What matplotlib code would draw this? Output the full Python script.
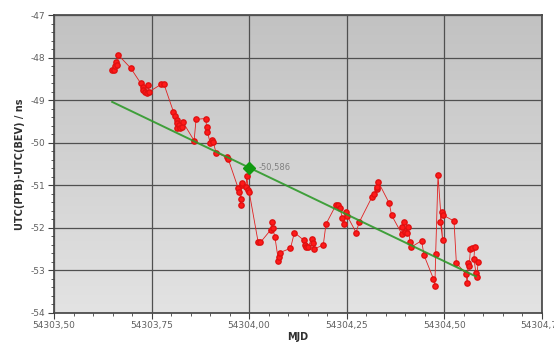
import numpy as np
import matplotlib
matplotlib.use("Agg")
import matplotlib.pyplot as plt
from matplotlib.ticker import MultipleLocator, FuncFormatter

# Measurement series: MJD and clock difference in ns
mjd = [
    54303.648, 54303.654, 54303.656, 54303.659, 54303.662, 54303.665,
    54303.697, 54303.722, 54303.727, 54303.729, 54303.733, 54303.737,
    54303.740, 54303.744, 54303.774, 54303.782, 54303.806, 54303.810,
    54303.814, 54303.815, 54303.816, 54303.821, 54303.823, 54303.827,
    54303.830, 54303.859, 54303.864, 54303.889, 54303.891, 54303.893,
    54303.900, 54303.904, 54303.908, 54303.915, 54303.942, 54303.946,
    54303.972, 54303.975, 54303.978, 54303.978, 54303.981, 54303.983,
    54303.992, 54303.994, 54303.998, 54304.000, 54304.023, 54304.029,
    54304.055, 54304.058, 54304.060, 54304.066, 54304.075, 54304.077,
    54304.079, 54304.106, 54304.116, 54304.140, 54304.143, 54304.145,
    54304.151, 54304.160, 54304.163, 54304.166, 54304.190, 54304.197,
    54304.222, 54304.228, 54304.233, 54304.239, 54304.243, 54304.247,
    54304.251, 54304.274, 54304.282, 54304.315, 54304.321, 54304.327,
    54304.328, 54304.331, 54304.359, 54304.365, 54304.391, 54304.393,
    54304.397, 54304.399, 54304.405, 54304.408, 54304.412, 54304.414,
    54304.442, 54304.448, 54304.472, 54304.476, 54304.478, 54304.484,
    54304.496, 54304.490, 54304.493, 54304.497, 54304.525, 54304.531,
    54304.555, 54304.559, 54304.561, 54304.564, 54304.567, 54304.572,
    54304.578, 54304.576, 54304.581, 54304.583, 54304.587,
]
diff_ns = [
    -48.28, -48.29, -48.20, -48.10, -48.17, -47.94,
    -48.25, -48.60, -48.68, -48.76, -48.80, -48.84,
    -48.64, -48.80, -48.63, -48.63, -49.27, -49.37,
    -49.47, -49.66, -49.54, -49.58, -49.66, -49.62,
    -49.51, -49.95, -49.45, -49.43, -49.64, -49.74,
    -50.00, -49.94, -49.98, -50.23, -50.34, -50.37,
    -51.07, -51.15, -51.31, -51.46, -50.99, -50.95,
    -51.03, -50.79, -51.11, -51.15, -52.33, -52.34,
    -52.05, -51.86, -52.00, -52.21, -52.77, -52.68,
    -52.58, -52.48, -52.11, -52.29, -52.40, -52.46,
    -52.46, -52.25, -52.36, -52.50, -52.40, -51.91,
    -51.47, -51.46, -51.54, -51.77, -51.91, -51.62,
    -51.71, -52.11, -51.87, -51.27, -51.20, -51.09,
    -51.03, -50.92, -51.42, -51.70, -52.14, -51.97,
    -51.86, -52.09, -52.11, -51.97, -52.33, -52.46,
    -52.30, -52.64, -53.19, -53.37, -52.61, -50.76,
    -52.29, -51.86, -51.62, -51.70, -51.84, -52.82,
    -53.08, -53.29, -52.82, -52.90, -52.50, -52.48,
    -52.46, -52.72, -53.05, -53.16, -52.80,
]

# Linear fit line and its marked value at MJD 54304.00
fit_mjd = [54303.649, 54304.581]
fit_ns = [-49.04, -53.14]
mark_mjd = 54304.00
mark_ns = -50.586

fig = plt.figure(figsize=(5.54, 3.43), dpi=100)
ax = fig.add_axes([0.0975, 0.0875, 0.8805, 0.8685])
ax.set_xlim(54303.5, 54304.75)
ax.set_ylim(-54, -47)

# light grey vertical gradient behind the plot, darker at the top
shade = np.linspace(0.76, 0.89, 256)
grad = np.repeat(shade[:, None, None], 3, axis=2)
ax.imshow(grad, extent=[0, 1, 0, 1], transform=ax.transAxes,
          aspect="auto", zorder=0, origin="upper")
ax.set_facecolor("#d0d0d0")

ax.xaxis.set_major_locator(MultipleLocator(0.25))
ax.xaxis.set_minor_locator(MultipleLocator(0.05))
ax.yaxis.set_major_locator(MultipleLocator(1))
ax.yaxis.set_minor_locator(MultipleLocator(0.2))
ax.xaxis.set_major_formatter(FuncFormatter(lambda v, p: f"{v:.2f}".replace(".", ",")))
ax.yaxis.set_major_formatter(FuncFormatter(lambda v, p: f"{v:.0f}"))
ax.grid(True, which="major", color="#505050", linewidth=0.9, zorder=1)
ax.set_axisbelow(False)

ax.tick_params(which="major", length=4, width=0.8, color="#404040",
               labelsize=6.5, labelcolor="#606060", pad=2)
ax.tick_params(which="minor", length=2, width=0.6, color="#404040")
for side in ["top", "right", "left", "bottom"]:
    ax.spines[side].set_color("#404040")
    ax.spines[side].set_linewidth(1.2)

ax.plot(mjd, diff_ns, color="#e02020", linewidth=0.6, marker="o",
        markersize=3.8, markerfacecolor="#ff1a1a", markeredgecolor="#e01010",
        zorder=3)
ax.plot(fit_mjd, fit_ns, color="#2f9a2a", linewidth=1.4, alpha=0.9, zorder=4)
ax.plot([mark_mjd], [mark_ns], marker="D", markersize=6.5, color="#119a11",
        zorder=5)
ax.annotate(f"{mark_ns:.3f}".replace(".", ","), (mark_mjd, mark_ns),
            xytext=(7, 0), textcoords="offset points", fontsize=6,
            color="#808080", va="center", ha="left", zorder=6)

ax.set_xlabel("MJD", fontsize=7, fontweight="bold", color="#303030", labelpad=1)
ax.set_ylabel("UTC(PTB)-UTC(BEV) / ns", fontsize=7, fontweight="bold",
              color="#303030", labelpad=4)

fig.savefig("out.png", dpi=100)
